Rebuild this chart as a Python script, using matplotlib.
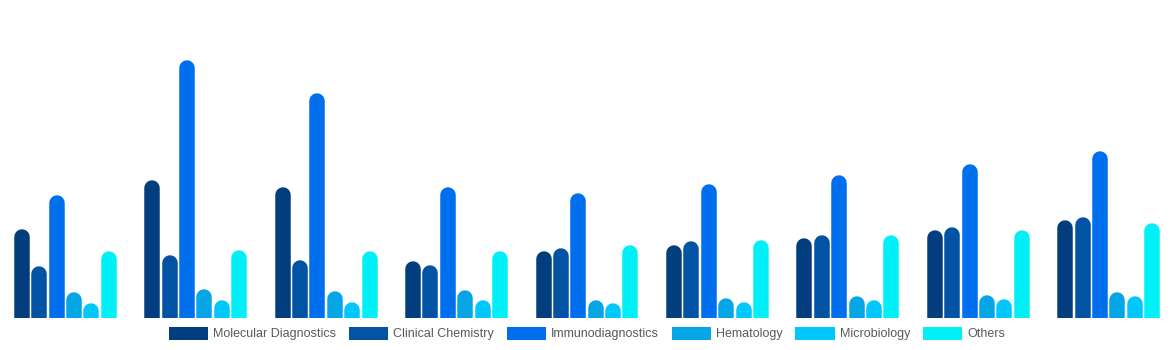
import matplotlib.pyplot as plt
from matplotlib.patches import Patch

# segment values per year group (no axis shown in the original)
GROUPS = list(range(9))
SERIES = ["Molecular Diagnostics", "Clinical Chemistry", "Immunodiagnostics",
          "Hematology", "Microbiology", "Others"]

molecular = [8.87, 13.70, 13.07, 5.60, 6.67, 7.27, 7.94, 8.77, 9.70]
clinical = [5.17, 6.27, 5.70, 5.20, 6.94, 7.60, 8.27, 9.07, 10.00]
immuno = [12.27, 25.70, 22.47, 13.00, 12.44, 13.34, 14.27, 15.34, 16.60]
hematology = [2.57, 2.87, 2.60, 2.77, 1.77, 1.97, 2.10, 2.27, 2.50]
microbiology = [1.47, 1.74, 1.57, 1.77, 1.44, 1.57, 1.70, 1.87, 2.10]
others = [6.60, 6.77, 6.67, 6.60, 7.24, 7.70, 8.20, 8.74, 9.40]

COLORS = ["#023E7D", "#0353A4", "#006FEE", "#06A6E6", "#00C8FF", "#00F0F8"]

DPI = 100
W, H = 11.74, 3.5
BAR_PX = 15.5
PITCH = 0.1333


def main() -> None:
    values = [molecular, clinical, immuno, hematology, microbiology, others]

    fig = plt.figure(figsize=(W, H), dpi=DPI)
    ax = fig.add_axes([0, 32.3 / 350, 1, 317.7 / 350])
    ymax = 31.77
    ax.set_xlim(-0.5, len(GROUPS) - 0.5)
    ax.set_ylim(0, ymax)
    ax.axis("off")

    # radius of the rounded cap, in data units
    ax_h_px = H * DPI * 317.7 / 350
    r = (BAR_PX / 2) * ymax / ax_h_px
    lw = BAR_PX * 72 / DPI

    for j, (vals, color) in enumerate(zip(values, COLORS)):
        xs = [g + (j - 2.5) * PITCH for g in GROUPS]
        ax.vlines(xs, -2 * r, [v - r for v in vals], colors=color,
                  linewidth=lw, capstyle="round")

    handles = [Patch(facecolor=c, edgecolor="none") for c in COLORS]
    fig.legend(handles, SERIES, loc="center", bbox_to_anchor=(0.5, 16.5 / 350),
               ncol=6, frameon=False, handlelength=3.15, handleheight=1.2,
               handletextpad=0.42, columnspacing=1.0,
               prop={"family": "Liberation Sans", "size": 9},
               labelcolor="#595959")

    fig.savefig("out.png", dpi=DPI)
    plt.close(fig)


if __name__ == "__main__":
    main()
